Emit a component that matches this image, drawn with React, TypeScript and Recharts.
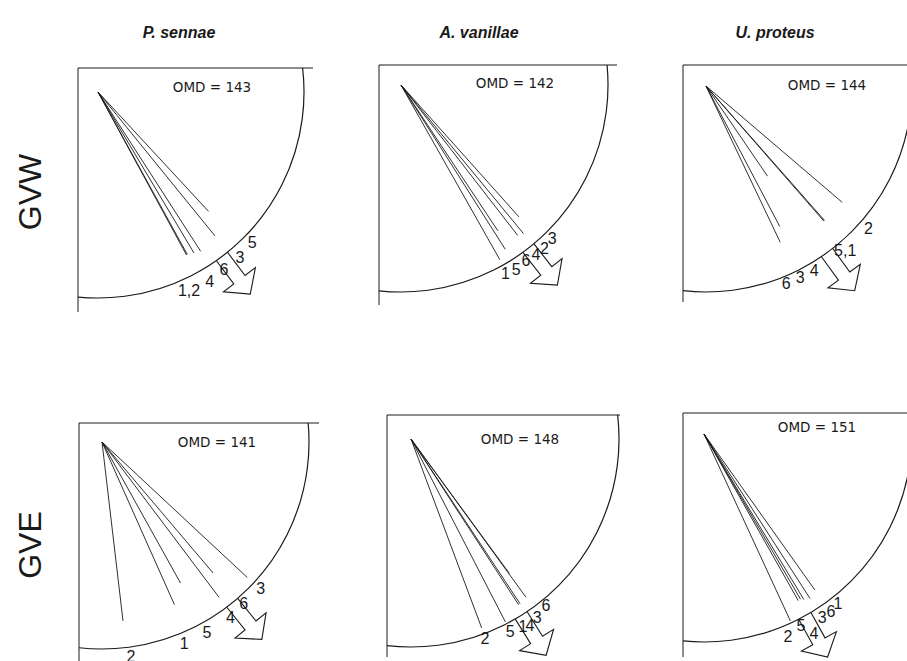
import { PieChart, Pie, ScatterChart, Scatter, XAxis, YAxis, ReferenceLine } from 'recharts';

const species = ['P. sennae', 'A. vanillae', 'U. proteus'];
const treatments = ['GVW', 'GVE'];
const omd = [143, 142, 144, 141, 148, 151];

// bearing of individuals 1..6 (deg clockwise from north), one row per panel
const bearings = [
  [151.2, 151.5, 140.9, 149.2, 137.2, 147.2],
  [150.5, 140.5, 138.2, 142.2, 147.6, 146.4],
  [138.9, 130.5, 152.3, 145.7, 138.6, 154.6],
  [156.0, 173.3, 133.0, 143.0, 150.9, 139.7],
  [147.0, 159.5, 144.0, 146.5, 152.7, 143.8],
  [144.6, 155.2, 148.9, 149.7, 150.5, 147.2],
];
// vector length as a fraction of the circle radius
const lengths = [
  [0.9, 0.9, 0.9, 0.91, 0.79, 0.92],
  [0.97, 0.93, 0.855, 0.92, 0.94, 0.845],
  [0.87, 0.87, 0.77, 0.53, 0.87, 0.84],
  [0.86, 0.87, 0.96, 0.94, 0.78, 0.83],
  [0.95, 0.97, 0.94, 0.95, 0.99, 0.8],
  [0.92, 0.99, 0.93, 0.92, 0.92, 0.94],
];
// numbers written round the circle
const labelTexts = [
  ['5', '3', '6', '4', '1,2'],
  ['3', '2', '4', '6', '5', '1'],
  ['2', '5,1', '4', '3', '6'],
  ['3', '6', '4', '5', '1', '2'],
  ['6', '3', '4', '1', '5', '2'],
  ['1', '6', '3', '5', '4', '2'],
];
const labelBearings = [
  [134.4, 139.3, 144.6, 149.4, 155.4],
  [135.4, 138.7, 141.4, 144.5, 148.0, 151.0],
  [131.3, 139.7, 149.7, 153.8, 157.9],
  [132.8, 138.8, 143.8, 151.1, 157.8, 172.3],
  [140.9, 144.7, 147.4, 149.2, 152.8, 159.6],
  [141.6, 144.5, 147.3, 153.2, 151.1, 157.5],
];
const labelRadii = [
  [1.047, 1.057, 1.055, 1.066, 1.062],
  [1.04, 1.05, 1.045, 1.04, 1.05, 1.04],
  [1.05, 1.045, 1.04, 1.035, 1.035],
  [1.045, 1.04, 1.05, 1.05, 1.05, 1.045],
  [1.029, 1.049, 1.062, 1.052, 1.043, 1.021],
  [1.037, 1.051, 1.051, 1.034, 1.093, 1.056],
];

// frame corner, frame size, release point, circle radius, OMD text spot
const panels = [
  { x: 78, y: 68, w: 235, h: 244, ox: 20, oy: 24, r: 206, tx: 134, ty: 19 },
  { x: 379, y: 65, w: 238, h: 240, ox: 22, oy: 20, r: 207, tx: 136, ty: 18 },
  { x: 683, y: 65, w: 230, h: 237, ox: 23, oy: 21, r: 206, tx: 144, ty: 20 },
  { x: 79, y: 423, w: 240, h: 240, ox: 23, oy: 19, r: 207, tx: 138, ty: 19 },
  { x: 387, y: 415, w: 233, h: 242, ox: 24, oy: 24, r: 208, tx: 133, ty: 24 },
  { x: 683, y: 413, w: 230, h: 244, ox: 21, oy: 21, r: 208, tx: 134, ty: 14 },
];

const PAD = 5;
const INK = '#1a1a1a';
const SANS = '"Liberation Sans", Arial, sans-serif';

const toRad = (d: number) => (d * Math.PI) / 180;

const hidden = () => <g />;

const textShape = (size: number, family: string) => (p: any) => (
  <text
    x={p.cx}
    y={p.cy}
    textAnchor="middle"
    dominantBaseline="central"
    fontSize={size}
    fontFamily={family}
    fill={INK}
  >
    {p.payload.t}
  </text>
);

const arrowShape = (p: any) => (
  <polyline
    points="-7,0 -7,29 -20,29 0,47 20,29 7,29 7,0"
    transform={`translate(${p.cx},${p.cy}) rotate(${p.payload.b - 180})`}
    fill="none"
    stroke={INK}
    strokeWidth={1.1}
  />
);

function Panel({ i }: { i: number }) {
  const p = panels[i];
  const at = (b: number, d: number) => ({
    x: p.ox + d * Math.sin(toRad(b)),
    y: p.oy - d * Math.cos(toRad(b)),
  });
  const origin = { x: p.ox, y: p.oy };
  const labels = labelTexts[i].map((t, k) => ({ ...at(labelBearings[i][k], labelRadii[i][k] * p.r), t }));
  const arrow = [{ ...at(omd[i], p.r), b: omd[i] }];
  const omdText = [{ x: p.tx, y: p.ty, t: `OMD = ${omd[i]}` }];

  return (
    <div style={{ position: 'absolute', left: p.x - PAD, top: p.y - PAD }}>
      <div style={{ position: 'absolute', left: PAD, top: PAD, width: p.w, height: p.h, overflow: 'hidden' }}>
        <PieChart width={p.w} height={p.h} margin={{ top: 0, right: 0, bottom: 0, left: 0 }}>
          <Pie
            data={[{ value: 1 }]}
            dataKey="value"
            cx={p.ox}
            cy={p.oy}
            innerRadius={p.r}
            outerRadius={p.r}
            startAngle={30}
            endAngle={-120}
            fill="none"
            stroke={INK}
            strokeWidth={1.2}
            isAnimationActive={false}
          />
        </PieChart>
      </div>
      <div style={{ position: 'absolute', left: 0, top: 0 }}>
        <ScatterChart
          width={p.w + 2 * PAD}
          height={p.h + 2 * PAD}
          margin={{ top: PAD, right: PAD, bottom: PAD, left: PAD }}
        >
          <XAxis type="number" dataKey="x" domain={[0, p.w]} hide />
          <YAxis type="number" dataKey="y" domain={[0, p.h]} reversed hide />
          <ReferenceLine
            segment={[{ x: 0, y: 0 }, { x: p.w, y: 0 }]}
            stroke={INK}
            strokeWidth={1}
            ifOverflow="visible"
          />
          <ReferenceLine
            segment={[{ x: 0, y: 0 }, { x: 0, y: p.h }]}
            stroke={INK}
            strokeWidth={1}
            ifOverflow="visible"
          />
          {bearings[i].map((b, k) => (
            <Scatter
              key={k}
              data={[origin, at(b, lengths[i][k] * p.r)]}
              line={{ stroke: INK, strokeWidth: 0.9 }}
              shape={hidden}
              isAnimationActive={false}
            />
          ))}
          <Scatter data={arrow} shape={arrowShape} isAnimationActive={false} />
          <Scatter data={labels} shape={textShape(16, SANS)} isAnimationActive={false} />
          <Scatter data={omdText} shape={textShape(13.5, '"DejaVu Sans", sans-serif')} isAnimationActive={false} />
        </ScatterChart>
      </div>
    </div>
  );
}

const titleX = [179, 479, 775];
const rowY = [192, 545];

export default function App() {
  return (
    <div
      style={{
        position: 'absolute',
        left: 0,
        top: 0,
        width: 907,
        height: 661,
        overflow: 'hidden',
        background: '#fff',
        fontFamily: SANS,
        color: INK,
      }}
    >
      {species.map((s, k) => (
        <div
          key={s}
          style={{
            position: 'absolute',
            left: titleX[k],
            top: 33,
            transform: 'translate(-50%, -50%)',
            fontSize: 16,
            fontWeight: 'bold',
            fontStyle: 'italic',
            whiteSpace: 'nowrap',
            lineHeight: 1,
          }}
        >
          {s}
        </div>
      ))}
      {treatments.map((t, k) => (
        <div
          key={t}
          style={{
            position: 'absolute',
            left: 30,
            top: rowY[k],
            transform: 'translate(-50%, -50%) rotate(-90deg)',
            fontSize: 32,
            whiteSpace: 'nowrap',
            lineHeight: 1,
          }}
        >
          {t}
        </div>
      ))}
      {panels.map((_, i) => (
        <Panel key={i} i={i} />
      ))}
    </div>
  );
}
